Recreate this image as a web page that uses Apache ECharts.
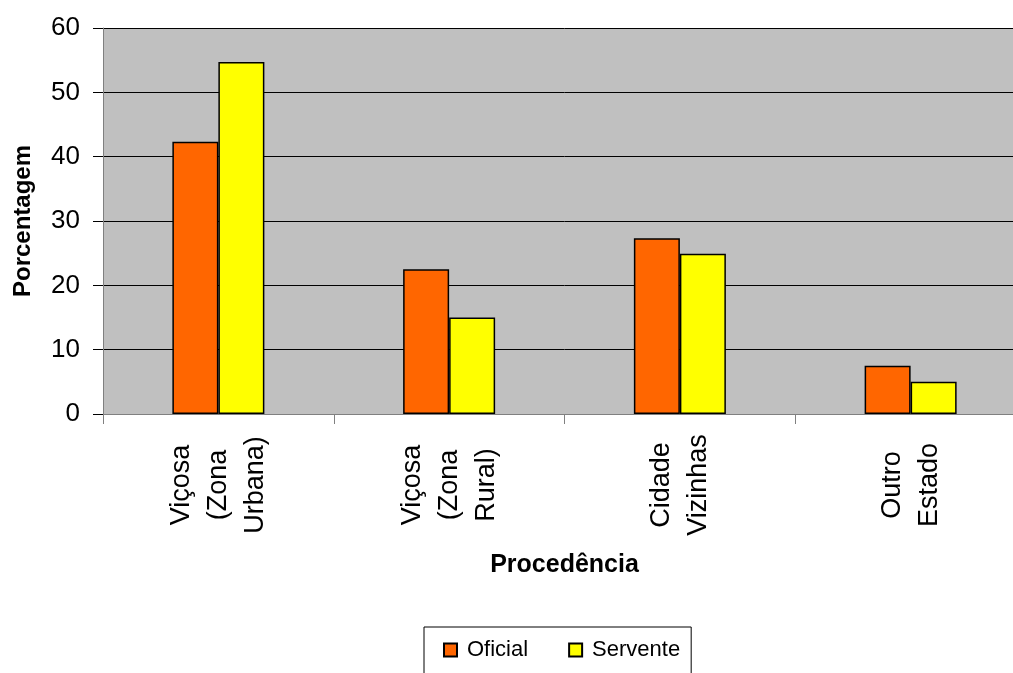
<!DOCTYPE html>
<html>
<head>
<meta charset="utf-8">
<title>Procedência</title>
<script src="https://cdn.jsdelivr.net/npm/echarts@6/dist/echarts.min.js"></script>
<style>
  html, body { margin: 0; padding: 0; background: #ffffff; overflow: hidden; }
  /* the plot runs slightly past the right edge of the window */
  #chart { width: 1026px; height: 673px; }
</style>
</head>
<body>
<div id="chart"></div>
<script>
// Categories (line breaks as printed under the axis)
const categories = [
  'Viçosa\n(Zona\nUrbana)',
  'Viçosa\n(Zona\nRural)',
  'Cidade\nVizinhas',
  'Outro\nEstado'
];

// Percentages per group
const oficial = [42.3, 22.5, 27.3, 7.5];
const servente = [54.7, 15.0, 24.9, 5.0];

// Value axis ticks
const yMin = 0;
const yMax = 60;
const yStep = 10;

const chart = echarts.init(document.getElementById('chart'), null, { renderer: 'canvas' });

const font = 'Arial, "Liberation Sans", sans-serif';

chart.setOption({
  animation: false,
  backgroundColor: '#ffffff',
  textStyle: { fontFamily: font, color: '#000' },
  grid: {
    left: 103,
    top: 28,
    bottom: 259,
    right: 0,
    show: true,
    backgroundColor: '#C0C0C0',
    borderWidth: 0
  },
  legend: {
    left: 424,
    top: 627,
    padding: [12, 11, 18, 19],
    borderColor: '#000',
    borderWidth: 1,
    itemWidth: 13,
    itemHeight: 13,
    itemGap: 40,
    icon: 'rect',
    textStyle: { fontFamily: font, fontSize: 22, color: '#000', padding: [0, 0, 0, 5] },
    data: ['Oficial', 'Servente']
  },
  xAxis: {
    type: 'category',
    data: categories,
    name: 'Procedência',
    nameLocation: 'middle',
    nameGap: 139,
    nameTextStyle: { fontFamily: font, fontSize: 25, fontWeight: 'bold', color: '#000' },
    axisLine: { show: true, lineStyle: { color: '#808080', width: 1 } },
    axisTick: { show: true, length: 10, lineStyle: { color: '#808080' } },
    axisLabel: {
      rotate: 90,
      align: 'center',
      verticalAlign: 'middle',
      margin: 71,
      fontFamily: font,
      fontSize: 27,
      lineHeight: 37,
      color: '#000'
    },
    splitLine: { show: false }
  },
  yAxis: {
    type: 'value',
    min: yMin,
    max: yMax,
    interval: yStep,
    name: 'Porcentagem',
    nameLocation: 'middle',
    nameGap: 68,
    nameTextStyle: { fontFamily: font, fontSize: 24, fontWeight: 'bold', color: '#000' },
    axisLine: { show: true, lineStyle: { color: '#808080', width: 1 } },
    axisTick: { show: true, length: 10, lineStyle: { color: '#000' } },
    axisLabel: { margin: 23, fontFamily: font, fontSize: 26, color: '#000' },
    splitLine: { show: true, lineStyle: { color: '#000', width: 1 } }
  },
  series: [
    {
      name: 'Oficial',
      type: 'bar',
      data: oficial,
      barWidth: 46,
      barGap: '0%',
      itemStyle: { color: '#FF6600', borderColor: '#000', borderWidth: 1.5 }
    },
    {
      name: 'Servente',
      type: 'bar',
      data: servente,
      barWidth: 46,
      barGap: '0%',
      itemStyle: { color: '#FFFF00', borderColor: '#000', borderWidth: 1.5 }
    }
  ]
});
</script>
</body>
</html>
